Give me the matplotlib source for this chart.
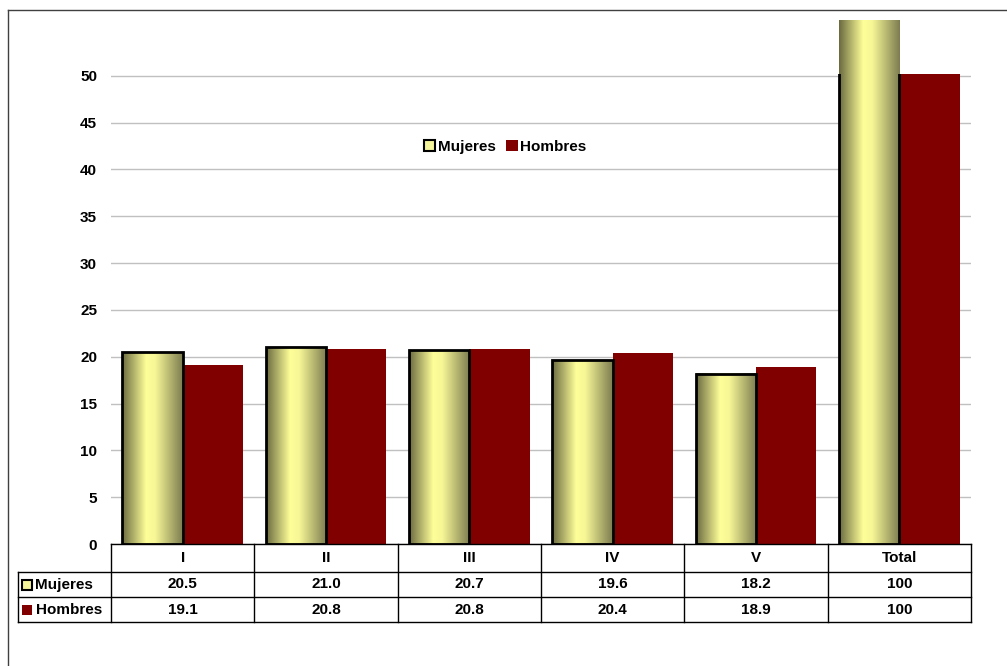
import numpy as np
import matplotlib
matplotlib.use("Agg")
import matplotlib.pyplot as plt
from matplotlib.patches import Rectangle
from matplotlib.lines import Line2D
from matplotlib.colors import LinearSegmentedColormap
from matplotlib.transforms import Bbox, TransformedBbox

plt.rcParams['font.family'] = ['Liberation Sans', 'DejaVu Sans']

categories = ["I", "II", "III", "IV", "V", "Total"]
mujeres = [20.5, 21.0, 20.7, 19.6, 18.2, 100]
hombres = [19.1, 20.8, 20.8, 20.4, 18.9, 100]
mujeres_labels = ["20.5", "21.0", "20.7", "19.6", "18.2", "100"]
hombres_labels = ["19.1", "20.8", "20.8", "20.4", "18.9", "100"]
yticks = [0, 5, 10, 15, 20, 25, 30, 35, 40, 45, 50]

W, H = 1007, 666
FS = 11
fig = plt.figure(figsize=(W / 100, H / 100), dpi=100)

def fx(px):
    return px / W

def fy(py):
    return 1 - py / H

ax_left, ax_right, ax_bot, ax_top = 111, 971, 544, 74
ax = fig.add_axes([fx(ax_left), fy(ax_bot), fx(ax_right - ax_left), (ax_bot - ax_top) / H])
for s in ax.spines.values():
    s.set_visible(False)
ax.set_xticks([])
ax.set_yticks(yticks)
ax.set_yticklabels([str(v) for v in yticks], fontsize=FS, fontweight='bold')
ax.tick_params(axis='y', length=0, pad=10)
ax.grid(axis='y', color='#c0c0c0', linewidth=1)
ax.set_axisbelow(True)

hombre_color = '#800000'
grad_cmap = LinearSegmentedColormap.from_list(
    'g', [(0, '#6a6a40'), (0.4, '#ffff99'), (0.55, '#f6f696'), (1.0, '#7c7c50')])
grad = np.linspace(0, 1, 256).reshape(1, -1)

bw = 0.42
x = np.arange(len(categories))
overflow_box = TransformedBbox(Bbox([[0, 0], [1, fy(20)]]), fig.transFigure)
for i, (m, h) in enumerate(zip(mujeres, hombres)):
    x0 = x[i] - bw
    im = ax.imshow(grad, cmap=grad_cmap, aspect='auto', extent=[x0, x0 + bw, 0, m],
                   zorder=2, interpolation='bilinear')
    im.set_clip_box(overflow_box)
    ax.add_patch(Rectangle((x0, 0), bw, m, facecolor='none', edgecolor='black',
                           linewidth=2, zorder=3))
    ax.bar(x[i] + bw / 2, h, width=bw, color=hombre_color, zorder=2.5)

ax.set_xlim(-0.5, len(categories) - 0.5)
ax.set_ylim(0, 50.2)

# legend
h1 = Rectangle((0, 0), 1, 1, facecolor='#f4f49a', edgecolor='black', linewidth=1.5)
h2 = Rectangle((0, 0), 1, 1, facecolor=hombre_color, edgecolor='none')
fig.legend([h1, h2], ["Mujeres", "Hombres"], loc='center',
           bbox_to_anchor=(fx(505), fy(147)), ncol=2, frameon=False,
           prop={'weight': 'bold', 'size': FS}, handlelength=0.75, handleheight=0.75,
           handletextpad=0.15, columnspacing=0.7)

# data table
col_w = (ax_right - ax_left) / len(categories)
r0, r1, r2, r3 = 544, 572, 597, 622
lab_left = 18
lw = 1.0

def hline(y, xa, xb):
    fig.add_artist(Line2D([fx(xa), fx(xb)], [fy(y), fy(y)], color='black', linewidth=lw))

def vline(xp, ya, yb):
    fig.add_artist(Line2D([fx(xp), fx(xp)], [fy(ya), fy(yb)], color='black', linewidth=lw))

hline(r0, ax_left, ax_right)
hline(r1, lab_left, ax_right)
hline(r2, lab_left, ax_right)
hline(r3, lab_left, ax_right)
vline(lab_left, r1, r3)
for k in range(len(categories) + 1):
    vline(ax_left + k * col_w, r0, r3)

for k, c in enumerate(categories):
    cx = ax_left + (k + 0.5) * col_w
    fig.text(fx(cx), fy((r0 + r1) / 2), c, ha='center', va='center', fontsize=FS, fontweight='bold')
    fig.text(fx(cx), fy((r1 + r2) / 2), mujeres_labels[k], ha='center', va='center', fontsize=FS, fontweight='bold')
    fig.text(fx(cx), fy((r2 + r3) / 2), hombres_labels[k], ha='center', va='center', fontsize=FS, fontweight='bold')

# row labels with keys
fig.add_artist(Rectangle((fx(22), fy(590)), fx(10), 10 / H, facecolor='#f4f49a',
                         edgecolor='black', linewidth=1.5, transform=fig.transFigure))
fig.add_artist(Rectangle((fx(22), fy(615)), fx(10), 10 / H, facecolor=hombre_color,
                         edgecolor='none', transform=fig.transFigure))
fig.text(fx(35), fy((r1 + r2) / 2), "Mujeres", ha='left', va='center', fontsize=FS, fontweight='bold')
fig.text(fx(36), fy((r2 + r3) / 2), "Hombres", ha='left', va='center', fontsize=FS, fontweight='bold')

# outer border (top and left visible)
fig.add_artist(Line2D([fx(8), fx(W)], [fy(10), fy(10)], color='#404040', linewidth=1))
fig.add_artist(Line2D([fx(8), fx(8)], [fy(10), 0], color='#404040', linewidth=1))

fig.savefig('out.png', dpi=100)
